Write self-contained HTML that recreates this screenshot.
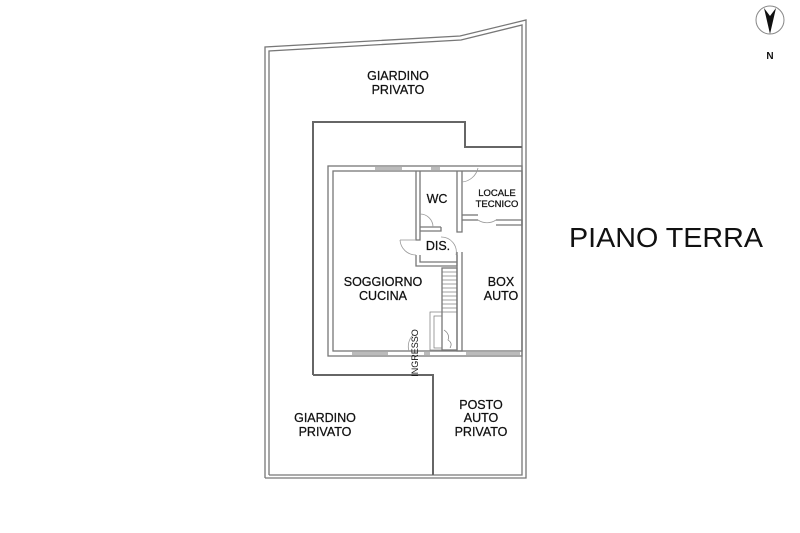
<!DOCTYPE html>
<html><head><meta charset="utf-8"><style>
html,body{margin:0;padding:0;background:#fff;}
svg{display:block;}
text{font-family:"Liberation Sans",Arial,sans-serif;fill:#111;}
</style></head><body>
<svg width="800" height="533" viewBox="0 0 800 533" xmlns="http://www.w3.org/2000/svg">
<g fill="none" stroke="#777" stroke-width="1.3">
<polyline points="265,478 265,47 460,36 526,20 526,478 265,478"/>
<polyline points="269,475 269,51 461,40 522,25 522,475 269,475"/>
<polyline points="313,375 313,122 465,122 465,147 522,147" stroke="#666" stroke-width="2"/>
<polyline points="313,375 433,375 433,475" stroke="#666" stroke-width="2"/>
<rect x="328" y="166" width="194" height="190"/>
<rect x="333" y="171" width="189" height="180"/>
<polyline points="416,171 416,240 420,240 420,171"/>
<polyline points="420,227 441,227"/>
<polyline points="420,231 441,231 441,227"/>
<polyline points="457,171 457,232 462,232 462,171"/>
<polyline points="462,220 478,220"/>
<polyline points="496,220 522,220 522,225 496,225"/>
<polyline points="462,215 478,215"/>
<polyline points="416,255 416,266 457,266 457,255"/>
<polyline points="420,255 420,262 457,262"/>
<polyline points="457,252 457,351 462,351 462,252"/>
<rect x="442" y="268" width="15" height="82"/>
<g stroke-width="0.7">
<line x1="442" y1="272" x2="457" y2="272"/><line x1="442" y1="276" x2="457" y2="276"/>
<line x1="442" y1="280" x2="457" y2="280"/><line x1="442" y1="284" x2="457" y2="284"/>
<line x1="442" y1="288" x2="457" y2="288"/><line x1="442" y1="292" x2="457" y2="292"/>
<line x1="442" y1="296" x2="457" y2="296"/><line x1="442" y1="300" x2="457" y2="300"/>
<line x1="442" y1="304" x2="457" y2="304"/><line x1="442" y1="308" x2="457" y2="308"/>
<rect x="430" y="312" width="27" height="38"/>
<rect x="434" y="316" width="8" height="32"/>
<path d="M444,330 q6,4 4,10 q5,3 2,8"/>
</g>
<g stroke="#bbb" stroke-width="3">
<line x1="375" y1="168.5" x2="402" y2="168.5"/>
<line x1="431" y1="168.5" x2="440" y2="168.5"/>
<line x1="352" y1="353.5" x2="388" y2="353.5"/>
<line x1="424" y1="353.5" x2="430" y2="353.5"/>
<line x1="466" y1="353.5" x2="520" y2="353.5"/>
</g>
<g stroke="#999" stroke-width="0.8">
<path d="M420,214 a13,13 0 0 1 13,13"/>
<path d="M400,240 a16,16 0 0 0 16,15"/>
<path d="M441,237 a15,15 0 0 1 15,18"/>
<path d="M478,168 a18,18 0 0 1 -16,14"/>
<path d="M478,220 a16,16 0 0 0 18,0"/>
<path d="M413,335 a16,16 0 0 0 -4,16"/>
<line x1="400" y1="240" x2="416" y2="240"/>
</g>
</g>
<circle cx="770" cy="20" r="14" fill="none" stroke="#888" stroke-width="1"/>
<polygon points="764,8 770,16 776,8 770,34" fill="#111"/>
<text x="770" y="59" font-size="10" font-weight="bold" text-anchor="middle">N</text>
<g font-size="12.5" text-anchor="middle" stroke="#111" stroke-width="0.25">
<text x="398" y="80">GIARDINO</text><text x="398" y="94">PRIVATO</text>
<text x="437" y="203">WC</text>
<text x="497" y="196" font-size="9.5">LOCALE</text><text x="497" y="207" font-size="9.5">TECNICO</text>
<text x="438" y="250">DIS.</text>
<text x="383" y="286">SOGGIORNO</text><text x="383" y="300">CUCINA</text>
<text x="501" y="286">BOX</text><text x="501" y="300">AUTO</text>
<text x="325" y="422">GIARDINO</text><text x="325" y="436">PRIVATO</text>
<text x="481" y="409">POSTO</text><text x="481" y="422">AUTO</text><text x="481" y="436">PRIVATO</text>
</g>
<text x="0" y="0" font-size="9" text-anchor="middle" transform="translate(418,353) rotate(-90)">INGRESSO</text>
<text x="569" y="247" font-size="27.5" textLength="194" lengthAdjust="spacingAndGlyphs">PIANO TERRA</text>
</svg>
</body></html>
